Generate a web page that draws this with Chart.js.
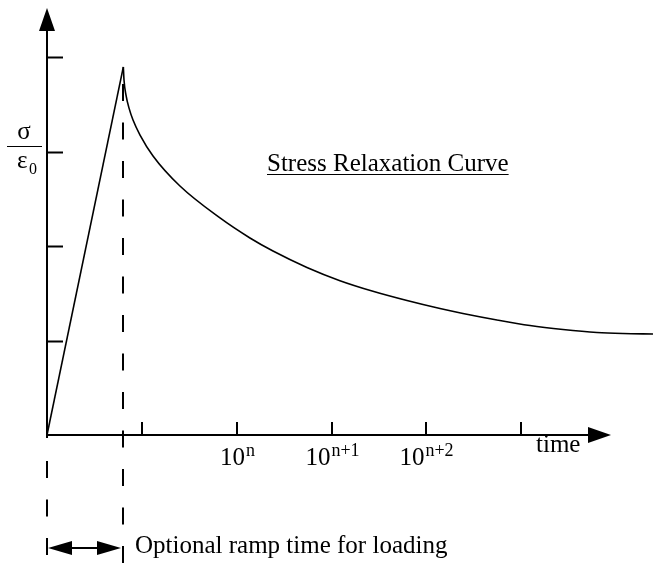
<!DOCTYPE html>
<html>
<head>
<meta charset="utf-8">
<script src="https://cdn.jsdelivr.net/npm/chart.js@4"></script>
<style>
  body { margin: 0; background: #fff; }
  canvas { display: block; }
</style>
</head>
<body>
<canvas id="relaxChart" width="653" height="563"></canvas>
<script>
// Stress relaxation - ramp loading then decay (arbitrary units)
const rampTime = [0, 0.805];
const rampStress = [0, 3.897];

const relaxTime = [0.805, 0.812, 0.833, 0.865, 0.907, 0.981, 1.118, 1.402, 1.824, 2.140, 2.383,
  2.741, 3.089, 3.437, 3.796, 4.144, 4.386, 4.745, 5.093, 5.441, 5.799, 6.073, 6.39];
const relaxStress = [3.897, 3.759, 3.599, 3.461, 3.335, 3.176, 2.954, 2.636, 2.298, 2.086, 1.948,
  1.774, 1.634, 1.522, 1.424, 1.339, 1.287, 1.218, 1.159, 1.117, 1.085, 1.074, 1.069];

const xTicks = [1, 2, 3, 4, 5];
const xTickExponents = [null, 'n', 'n+1', 'n+2', null];
const yTicks = [1, 2, 3, 4];
const rampEnd = 0.805;

const serif = "'Liberation Serif', 'DejaVu Serif', serif";

function toPoints(xs, ys) {
  return xs.map((x, i) => ({ x: x, y: ys[i] }));
}

function triangle(ctx, a, b, c) {
  ctx.beginPath();
  ctx.moveTo(a[0], a[1]);
  ctx.lineTo(b[0], b[1]);
  ctx.lineTo(c[0], c[1]);
  ctx.closePath();
  ctx.fill();
}

// axes, ticks, dashed markers and the texts
const sketchPlugin = {
  id: 'sketch',
  afterDraw(chart) {
    const ctx = chart.ctx;
    const xs = chart.scales.x;
    const ys = chart.scales.y;
    const x0 = xs.getPixelForValue(0);
    const y0 = ys.getPixelForValue(0);
    const xr = Math.round(xs.getPixelForValue(rampEnd));

    ctx.save();
    ctx.strokeStyle = '#000';
    ctx.fillStyle = '#000';
    ctx.lineWidth = 2;

    // y axis + arrow
    ctx.beginPath();
    ctx.moveTo(x0, y0 + 3);
    ctx.lineTo(x0, 28);
    ctx.stroke();
    triangle(ctx, [x0, 8], [x0 - 8, 31], [x0 + 8, 31]);

    // x axis + arrow
    ctx.beginPath();
    ctx.moveTo(x0 - 1, y0);
    ctx.lineTo(592, y0);
    ctx.stroke();
    triangle(ctx, [611, y0], [588, y0 - 8], [588, y0 + 8]);

    // y ticks
    yTicks.forEach(v => {
      const py = Math.round(ys.getPixelForValue(v)) + 0.5;
      ctx.beginPath();
      ctx.moveTo(x0, py);
      ctx.lineTo(x0 + 16, py);
      ctx.stroke();
    });

    // x ticks and labels
    xTicks.forEach((v, i) => {
      const px = Math.round(xs.getPixelForValue(v));
      ctx.beginPath();
      ctx.moveTo(px, y0);
      ctx.lineTo(px, y0 - 13);
      ctx.stroke();
      const exp = xTickExponents[i];
      if (exp) {
        ctx.font = '25px ' + serif;
        const wBase = ctx.measureText('10').width;
        ctx.font = '18px ' + serif;
        const wExp = ctx.measureText(exp).width;
        const left = px - (wBase + wExp) / 2;
        ctx.textBaseline = 'alphabetic';
        ctx.textAlign = 'left';
        ctx.font = '25px ' + serif;
        ctx.fillText('10', left, 465);
        ctx.font = '18px ' + serif;
        ctx.fillText(exp, left + wBase + 1, 456);
      }
    });

    ctx.font = '25px ' + serif;
    ctx.textAlign = 'left';
    ctx.fillText('time', 536, 452);

    // dashed lines at ramp end and origin
    ctx.setLineDash([17, 21.5]);
    ctx.beginPath();
    ctx.moveTo(xr, 84);
    ctx.lineTo(xr, 563);
    ctx.stroke();
    ctx.beginPath();
    ctx.moveTo(x0, 461);
    ctx.lineTo(x0, 563);
    ctx.stroke();
    ctx.setLineDash([]);

    // double arrow for ramp time
    const ya = 548;
    ctx.beginPath();
    ctx.moveTo(x0 + 10, ya);
    ctx.lineTo(xr - 10, ya);
    ctx.stroke();
    triangle(ctx, [x0 + 1, ya], [x0 + 25, ya - 7], [x0 + 25, ya + 7]);
    triangle(ctx, [xr - 2, ya], [xr - 26, ya - 7], [xr - 26, ya + 7]);

    ctx.font = '25px ' + serif;
    ctx.fillText('Optional ramp time for loading', 135, 553);

    // curve title, underlined
    const title = 'Stress Relaxation Curve';
    ctx.fillText(title, 267, 171);
    const tw = ctx.measureText(title).width;
    ctx.lineWidth = 1.2;
    ctx.beginPath();
    ctx.moveTo(267, 174.5);
    ctx.lineTo(267 + tw, 174.5);
    ctx.stroke();

    // sigma / epsilon0 label
    ctx.font = '25px ' + serif;
    ctx.textAlign = 'center';
    ctx.fillText('σ', 24, 139);
    ctx.beginPath();
    ctx.moveTo(7, 146.5);
    ctx.lineTo(42, 146.5);
    ctx.stroke();
    ctx.textAlign = 'left';
    ctx.fillText('ε', 17, 168);
    ctx.font = '16px ' + serif;
    ctx.fillText('0', 29, 174);

    ctx.restore();
  }
};

const ctx = document.getElementById('relaxChart').getContext('2d');
const relaxChart = new Chart(ctx, {
  type: 'scatter',
  data: {
    datasets: [
      {
        label: 'Ramp',
        data: toPoints(rampTime, rampStress),
        showLine: true,
        borderColor: '#000',
        borderWidth: 1.6,
        pointRadius: 0
      },
      {
        label: 'Relaxation',
        data: toPoints(relaxTime, relaxStress),
        showLine: true,
        borderColor: '#000',
        borderWidth: 1.6,
        pointRadius: 0,
        cubicInterpolationMode: 'monotone'
      }
    ]
  },
  options: {
    responsive: false,
    animation: false,
    layout: { padding: { left: 47, right: 0, top: 10, bottom: 128 } },
    plugins: {
      legend: { display: false },
      tooltip: { enabled: false }
    },
    scales: {
      x: { type: 'linear', min: 0, max: 6.39, display: false },
      y: { type: 'linear', min: 0, max: 4.5, display: false }
    }
  },
  plugins: [sketchPlugin]
});
</script>
</body>
</html>
